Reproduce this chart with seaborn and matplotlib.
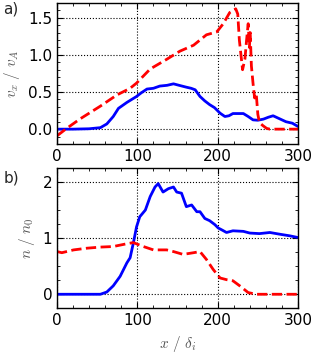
import matplotlib
matplotlib.use("Agg")
import matplotlib.pyplot as plt
import seaborn as sns
import pandas as pd
from matplotlib.ticker import MultipleLocator

# Panel a) v_x / v_A
vx_blue_x = [0, 20, 40, 54, 62, 70, 76.5, 87, 99, 105, 112, 120, 128, 137, 145, 152, 161, 167, 172, 178, 184, 190, 196, 203, 209, 214, 219, 226, 232, 238, 244, 250, 257, 263, 269, 277, 285, 293, 300]
vx_blue_y = [0.0, 0.0, 0.005, 0.02, 0.07, 0.17, 0.28, 0.36, 0.44, 0.49, 0.54, 0.55, 0.58, 0.59, 0.61, 0.59, 0.565, 0.55, 0.53, 0.44, 0.38, 0.33, 0.29, 0.215, 0.17, 0.18, 0.21, 0.21, 0.21, 0.17, 0.125, 0.12, 0.135, 0.16, 0.18, 0.14, 0.10, 0.08, 0.036]
vx_red_x = [0, 12, 29, 54, 74.5, 91, 99, 116, 136.5, 153, 170, 186, 199, 207, 215, 222.5, 225, 227, 229, 231, 234, 236, 238, 239.5, 240.5, 242, 244, 246, 248, 250, 252, 256, 261, 265, 300]
vx_red_y = [-0.09, 0.01, 0.14, 0.31, 0.46, 0.55, 0.62, 0.81, 0.94, 1.05, 1.13, 1.27, 1.31, 1.42, 1.57, 1.62, 1.55, 1.2, 1.0, 0.8, 0.95, 1.2, 1.42, 1.1, 1.3, 0.85, 0.62, 0.42, 0.48, 0.2, 0.09, 0.05, 0.01, 0.0, 0.0]

# Panel b) n / n_0
n_blue_x = [0, 20, 40, 54, 62, 70, 78.6, 87, 91, 95, 99, 103, 110, 116, 122, 126, 132, 138.6, 145, 149, 155, 161, 167.6, 174, 178, 184, 190, 196.5, 200.7, 206, 211, 219, 232, 240, 252, 265, 277, 290, 300]
n_blue_y = [0, 0, 0, 0.0, 0.04, 0.15, 0.32, 0.56, 0.65, 0.91, 1.2, 1.38, 1.5, 1.74, 1.91, 1.97, 1.82, 1.88, 1.91, 1.82, 1.8, 1.56, 1.59, 1.47, 1.47, 1.35, 1.31, 1.24, 1.18, 1.14, 1.1, 1.13, 1.12, 1.09, 1.08, 1.1, 1.07, 1.04, 1.01]
n_red_x = [0, 6, 20.7, 37, 54, 70, 87, 95, 107.5, 120, 136.5, 145, 157, 170, 178, 186, 194.5, 203, 211, 219, 227.5, 238, 248, 270, 300]
n_red_y = [0.76, 0.74, 0.79, 0.82, 0.84, 0.85, 0.9, 0.92, 0.85, 0.79, 0.79, 0.76, 0.71, 0.74, 0.76, 0.62, 0.44, 0.29, 0.26, 0.24, 0.15, 0.03, 0.0, 0.0, 0.0]

sns.set_style("white")
plt.rcParams.update({
    "font.family": ["DejaVu Sans"],
    "mathtext.fontset": "cm",
    "xtick.direction": "in",
    "ytick.direction": "in",
    "xtick.top": True,
    "ytick.right": True,
    "xtick.bottom": True,
    "ytick.left": True,
    "xtick.major.size": 4,
    "ytick.major.size": 4,
    "xtick.minor.size": 2,
    "ytick.minor.size": 2,
    "xtick.minor.visible": True,
    "ytick.minor.visible": True,
    "axes.edgecolor": "black",
    "axes.linewidth": 1.0,
    "xtick.color": "black",
    "ytick.color": "black",
})

fig = plt.figure(figsize=(3.15, 3.6), dpi=100)
ax1 = fig.add_axes([0.181, 0.600, 0.765, 0.392])
ax2 = fig.add_axes([0.181, 0.1436, 0.765, 0.390])

def draw(ax, bx, by, rx, ry):
    sns.lineplot(data=pd.DataFrame({"x": bx, "y": by}), x="x", y="y", ax=ax,
                 color="#0000ff", lw=2, sort=False, estimator=None)
    sns.lineplot(data=pd.DataFrame({"x": rx, "y": ry}), x="x", y="y", ax=ax,
                 color="#ff0000", lw=2, sort=False, estimator=None, linestyle="--")
    ax.set_xlim(0, 300)
    ax.xaxis.set_major_locator(MultipleLocator(100))
    ax.xaxis.set_minor_locator(MultipleLocator(20))
    ax.grid(True, which="major", color="black", linestyle=":", linewidth=0.8)
    ax.tick_params(labelsize=11, which="both", top=True, right=True)
    for s in ax.spines.values():
        s.set_visible(True)
        s.set_color("black")

draw(ax1, vx_blue_x, vx_blue_y, vx_red_x, vx_red_y)
ax1.set_ylim(-0.2, 1.7)
ax1.yaxis.set_major_locator(MultipleLocator(0.5))
ax1.yaxis.set_minor_locator(MultipleLocator(0.1))
ax1.set_ylabel(r"$v_x\ /\ v_A$", fontsize=11, color="#555555")
ax1.set_xlabel("")

draw(ax2, n_blue_x, n_blue_y, n_red_x, n_red_y)
ax2.set_ylim(-0.25, 2.25)
ax2.yaxis.set_major_locator(MultipleLocator(1))
ax2.yaxis.set_minor_locator(MultipleLocator(0.25))
ax2.set_ylabel(r"$n\ /\ n_0$", fontsize=11, color="#555555")
ax2.set_xlabel(r"$x\ /\ \delta_i$", fontsize=11, color="#555555")

fig.text(0.01, 0.962, "a)", fontsize=11)
fig.text(0.01, 0.493, "b)", fontsize=11)

fig.savefig("out.png", dpi=100)
